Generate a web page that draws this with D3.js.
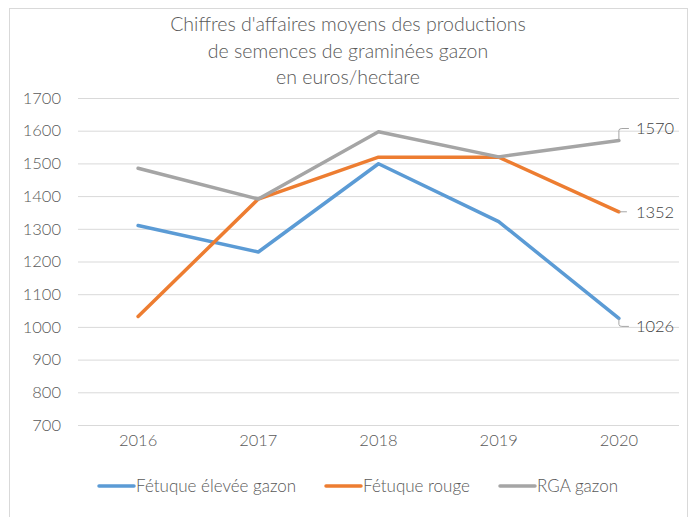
<!DOCTYPE html>
<html>
<head>
<meta charset="utf-8">
<script src="https://cdn.jsdelivr.net/npm/d3@7"></script>
<style>
  body { margin: 0; background: #fff; }
  svg { display: block; font-family: Lato, "Open Sans", sans-serif; }
</style>
</head>
<body>
<div id="chart"></div>
<script>
// chart data
const years = ["2016", "2017", "2018", "2019", "2020"];
const fetuqueElevee = [1310, 1229, 1499, 1322, 1026];
const fetuqueRouge = [1032, 1391, 1519, 1519, 1352];
const rgaGazon = [1485, 1391, 1597, 1520, 1570];
const yTicks = [700, 800, 900, 1000, 1100, 1200, 1300, 1400, 1500, 1600, 1700];
const titleLines = ["Chiffres d'affaires moyens des productions", "de semences de graminées gazon", "en euros/hectare"];

const series = [
    { name: "Fétuque élevée gazon", values: fetuqueElevee, color: "#5B9BD5", labelDy: 8 },
    { name: "Fétuque rouge", values: fetuqueRouge, color: "#ED7D31", labelDy: 0 },
    { name: "RGA gazon", values: rgaGazon, color: "#A5A5A5", labelDy: -12 }
];

const W = 696, H = 517;
const margin = { top: 98, right: 17, bottom: 92, left: 78 };
const width = W - margin.left - margin.right;
const height = H - margin.top - margin.bottom;

const svg = d3.select("#chart").append("svg")
    .attr("width", W)
    .attr("height", H);

// outer frame
svg.append("rect")
    .attr("x", 9.5).attr("y", 8.5)
    .attr("width", 678).attr("height", 530)
    .attr("fill", "none")
    .attr("stroke", "#d9d9d9");

// title
svg.append("g").selectAll("text")
    .data(titleLines)
    .enter().append("text")
    .attr("x", 348)
    .attr("y", (d, i) => 31 + i * 26.5)
    .attr("text-anchor", "middle")
    .style("font-size", "19.5px")
    .style("font-weight", 300)
    .style("fill", "#595959")
    .text(d => d);

const g = svg.append("g")
    .attr("transform", `translate(${margin.left},${margin.top})`);

const x = d3.scaleBand().domain(years).range([0, width]);
const y = d3.scaleLinear().domain([700, 1700]).range([height, 0]);

// gridlines + y labels
const yAxis = g.append("g")
    .call(d3.axisLeft(y).tickValues(yTicks).tickSize(-width).tickPadding(17).tickFormat(d3.format("d")));
yAxis.select(".domain").remove();
yAxis.selectAll("line").attr("stroke", "#d9d9d9").attr("stroke-width", 1);
yAxis.selectAll("text")
    .style("font-size", "16.5px")
    .style("font-weight", 300)
    .style("font-family", "Lato, sans-serif")
    .attr("fill", "#595959");

// x labels
const xAxis = g.append("g")
    .attr("transform", `translate(0,${height})`)
    .call(d3.axisBottom(x).tickSize(0).tickPadding(9));
xAxis.select(".domain").remove();
xAxis.selectAll("text")
    .style("font-size", "16.5px")
    .style("font-weight", 300)
    .style("font-family", "Lato, sans-serif")
    .attr("fill", "#595959");

const cx = d => x(d) + x.bandwidth() / 2;
const line = d3.line()
    .x((d, i) => cx(years[i]))
    .y(d => y(d));

g.selectAll(".series")
    .data(series)
    .enter().append("path")
    .attr("class", "series")
    .attr("d", d => line(d.values))
    .attr("fill", "none")
    .attr("stroke", d => d.color)
    .attr("stroke-width", 3.5)
    .attr("stroke-linejoin", "round")
    .attr("stroke-linecap", "round");

// end labels with leader lines
const last = years.length - 1;
series.forEach(s => {
    const px = cx(years[last]);
    const py = y(s.values[last]);
    const ly = py + s.labelDy;
    const path = s.labelDy === 0
        ? `M${px},${py}H${px + 8}`
        : `M${px},${py}V${ly - Math.sign(s.labelDy) * 2}Q${px},${ly} ${px + 3},${ly}H${px + 10}`;
    g.append("path")
        .attr("d", path)
        .attr("fill", "none")
        .attr("stroke", "#A5A5A5")
        .attr("stroke-width", 1);
    g.append("text")
        .attr("x", px + 17)
        .attr("y", ly)
        .attr("dy", "0.35em")
        .style("font-size", "16.5px")
        .style("font-weight", 300)
        .attr("fill", "#404040")
        .text(s.values[last]);
});

// legend
const legendX = [99, 326, 500];
const legend = svg.append("g").selectAll("g")
    .data(series)
    .enter().append("g")
    .attr("transform", (d, i) => `translate(${legendX[i]},486)`);
legend.append("line")
    .attr("x1", 0).attr("x2", 35)
    .attr("stroke", d => d.color)
    .attr("stroke-width", 3.5)
    .attr("stroke-linecap", "round");
legend.append("text")
    .attr("x", 37)
    .attr("dy", "0.35em")
    .style("font-size", "17px")
    .style("font-weight", 300)
    .attr("fill", "#595959")
    .text(d => d.name);
</script>
</body>
</html>
